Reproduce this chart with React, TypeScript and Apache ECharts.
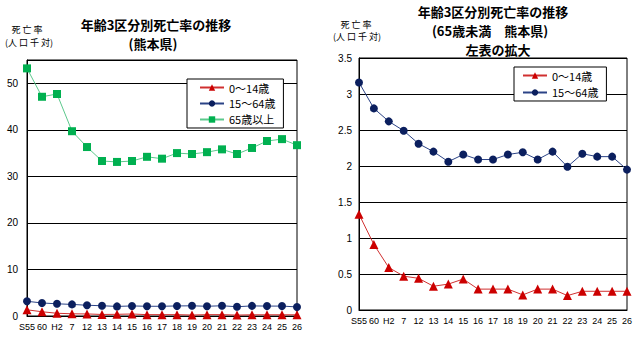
import React, { useEffect, useRef } from "react";
import * as echarts from "echarts";

const categories = ["S55", "60", "H2", "7", "12", "13", "14", "15", "16", "17", "18", "19", "20", "21", "22", "23", "24", "25", "26"];
const age0to14 = [1.33, 0.91, 0.59, 0.47, 0.44, 0.33, 0.36, 0.43, 0.29, 0.29, 0.29, 0.21, 0.29, 0.29, 0.2, 0.26, 0.26, 0.26, 0.26];
const age15to64 = [3.16, 2.8, 2.62, 2.49, 2.31, 2.2, 2.06, 2.16, 2.09, 2.09, 2.16, 2.19, 2.09, 2.2, 1.99, 2.17, 2.13, 2.13, 1.95];
const age65plus = [53.2, 47.1, 47.7, 39.7, 36.3, 33.3, 33.1, 33.3, 34.2, 33.8, 35.0, 34.8, 35.2, 35.8, 34.8, 36.1, 37.6, 38.0, 36.7];
const names = ["0～14歳", "15～64歳", "65歳以上"];

const FONT = '"Noto Sans CJK JP", "Noto Sans", sans-serif';

export default function App() {
  const ref = useRef<HTMLDivElement>(null);
  useEffect(() => {
    if (!ref.current) return;
    const chart = echarts.init(ref.current, undefined, { renderer: "svg" });
    const axisLabel = { color: "#000", fontSize: 9, fontFamily: '"Liberation Sans", Arial, sans-serif' };
    const xAxisBase = {
      type: "category",
      data: categories,
      boundaryGap: false,
      axisLine: { lineStyle: { color: "#000", width: 1 } },
      axisTick: { show: false },
      axisLabel: { ...axisLabel, interval: 0, margin: 6 },
    };
    const yAxisBase = {
      type: "value",
      axisLine: { show: true, lineStyle: { color: "#000", width: 1 } },
      axisTick: { show: false },
      splitLine: { lineStyle: { color: "#000", width: 1 } },
    };
    const red = { name: names[0], type: "line", symbol: "triangle", symbolSize: 9, itemStyle: { color: "#CC0000" }, lineStyle: { color: "#D03030", width: 1 } };
    const navy = { name: names[1], type: "line", symbol: "circle", symbolSize: 8, itemStyle: { color: "#0B1F5E" }, lineStyle: { color: "#2B4386", width: 1 } };
    const green = { name: names[2], type: "line", symbol: "rect", symbolSize: 8, itemStyle: { color: "#00B050" }, lineStyle: { color: "#5CC88C", width: 1 } };
    const txt = (x: number, y: number, text: string, font: string) => ({
      type: "text",
      x,
      y,
      style: { text, font, fill: "#000", textAlign: "center", textVerticalAlign: "middle" },
    });
    const titleFont = `bold 13px ${FONT}`;
    const smallFont = `9px ${FONT}`;
    const legendBase = {
      orient: "vertical",
      backgroundColor: "#fff",
      borderColor: "#000",
      borderWidth: 1,
      borderRadius: 0,
      itemWidth: 24,
      itemHeight: 8,
      textStyle: { color: "#000", fontSize: 11, fontFamily: FONT },
    };
    chart.setOption({
      animation: false,
      backgroundColor: "#fff",
      textStyle: { fontFamily: FONT },
      grid: [
        { left: 27, top: 60, width: 270, height: 256, show: true, borderColor: "#000", borderWidth: 1, backgroundColor: "transparent" },
        { left: 359, top: 58, width: 268, height: 252, show: true, borderColor: "#000", borderWidth: 1, backgroundColor: "transparent" },
      ],
      xAxis: [
        { ...xAxisBase, gridIndex: 0 },
        { ...xAxisBase, gridIndex: 1 },
      ],
      yAxis: [
        { ...yAxisBase, gridIndex: 0, min: 0, max: 55, interval: 10, axisLabel: { ...axisLabel, fontSize: 10, margin: 9, formatter: (v: number) => (v > 50 ? "" : String(v)) } },
        { ...yAxisBase, gridIndex: 1, min: 0, max: 3.5, interval: 0.5, axisLabel: { ...axisLabel, fontSize: 10, margin: 7 } },
      ],
      legend: [
        { ...legendBase, left: 187, top: 79, padding: [3, 8, 3, 12], itemGap: 5, data: names },
        { ...legendBase, left: 514, top: 67, padding: [3, 8, 3, 8], itemGap: 6, data: [names[0], names[1]] },
      ],
      series: [
        { ...red, xAxisIndex: 0, yAxisIndex: 0, data: age0to14, z: 4 },
        { ...navy, xAxisIndex: 0, yAxisIndex: 0, data: age15to64, z: 3 },
        { ...green, xAxisIndex: 0, yAxisIndex: 0, data: age65plus, z: 2 },
        { ...red, xAxisIndex: 1, yAxisIndex: 1, data: age0to14 },
        { ...navy, xAxisIndex: 1, yAxisIndex: 1, data: age15to64 },
      ],
      graphic: [
        txt(156, 24, "年齢3区分別死亡率の推移", titleFont),
        txt(153, 43.5, "(熊本県)", titleFont),
        txt(27, 29, "死 亡 率", smallFont),
        txt(29, 42, "(人 口 千 対)", smallFont),
        txt(493, 11.5, "年齢3区分別死亡率の推移", titleFont),
        txt(490, 30.5, "(65歳未満　熊本県)", titleFont),
        txt(498, 49.5, "左表の拡大", titleFont),
        txt(356, 24, "死 亡 率", smallFont),
        txt(357, 36, "(人 口 千 対)", smallFont),
      ],
    });
    return () => chart.dispose();
  }, []);
  return <div ref={ref} style={{ position: "absolute", left: 0, top: 0, width: 643, height: 337, background: "#fff" }} />;
}
